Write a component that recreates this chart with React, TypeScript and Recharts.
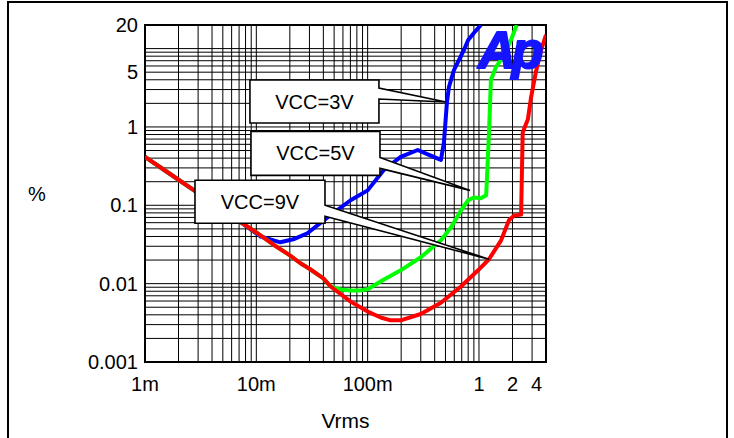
import React from 'react';
import { ComposedChart, Line, Scatter, XAxis, YAxis, CartesianGrid, ReferenceArea } from 'recharts';

// log grid, one line per 1..9 of every decade
const xTicks = [
  0.001, 0.002, 0.003, 0.004, 0.005, 0.006, 0.007, 0.008, 0.009,
  0.01, 0.02, 0.03, 0.04, 0.05, 0.06, 0.07, 0.08, 0.09,
  0.1, 0.2, 0.3, 0.4, 0.5, 0.6, 0.7, 0.8, 0.9,
  1, 2, 3, 4,
];
const yTicks = [
  0.001, 0.002, 0.003, 0.004, 0.005, 0.006, 0.007, 0.008, 0.009,
  0.01, 0.02, 0.03, 0.04, 0.05, 0.06, 0.07, 0.08, 0.09,
  0.1, 0.2, 0.3, 0.4, 0.5, 0.6, 0.7, 0.8, 0.9,
  1, 2, 3, 4, 5, 6, 7, 8, 9, 10, 20,
];
const xLabelValues = [0.001, 0.01, 0.1, 1, 2, 4];
const xLabelTexts = ['1m', '10m', '100m', '1', '2', '4'];
const yLabelValues = [0.001, 0.01, 0.1, 1, 5, 20];
const yLabelTexts = ['0.001', '0.01', '0.1', '1', '5', '20'];

// [Vrms, THD+N %]
const vcc3V = [
  [0.001, 0.414], [0.0015, 0.28], [0.002, 0.212], [0.003, 0.143], [0.005, 0.088], [0.007, 0.063],
  [0.0109, 0.04], [0.0164, 0.0337], [0.0215, 0.0368], [0.0288, 0.044], [0.0436, 0.07], [0.0703, 0.116],
  [0.1, 0.155], [0.139, 0.28], [0.198, 0.414], [0.282, 0.508], [0.355, 0.44], [0.455, 0.38],
  [0.484, 0.625], [0.515, 2.02], [0.537, 3.23], [0.596, 5.3], [0.733, 9.6], [0.8, 12.9], [0.9, 15.8], [1.04, 20],
];
const vcc5V = [
  [0.001, 0.414], [0.0015, 0.28], [0.002, 0.212], [0.003, 0.143], [0.005, 0.088], [0.007, 0.063],
  [0.01, 0.045], [0.015, 0.03], [0.02, 0.023], [0.0249, 0.0182], [0.03, 0.0155], [0.04, 0.0117],
  [0.0465, 0.0092], [0.057, 0.0084], [0.07, 0.0082], [0.0865, 0.0082], [0.1, 0.0085], [0.139, 0.0112],
  [0.198, 0.0148], [0.3, 0.0217], [0.455, 0.0357], [0.56, 0.052], [0.689, 0.086], [0.8, 0.116],
  [0.9, 0.126], [1.04, 0.123], [1.16, 0.134], [1.2, 0.38], [1.23, 0.84], [1.28, 3.97], [1.42, 5.8],
  [1.64, 7.8], [1.94, 12.9], [2.18, 20],
];
const vcc9V = [
  [0.001, 0.414], [0.0015, 0.28], [0.002, 0.212], [0.003, 0.143], [0.005, 0.088], [0.007, 0.063],
  [0.01, 0.045], [0.015, 0.03], [0.02, 0.023], [0.0249, 0.0182], [0.03, 0.0155], [0.04, 0.0117],
  [0.0465, 0.0092], [0.0703, 0.0059], [0.1, 0.0044], [0.131, 0.0037], [0.161, 0.0034], [0.198, 0.0034],
  [0.3, 0.0041], [0.455, 0.0057], [0.689, 0.0092], [0.98, 0.0148], [1.23, 0.0205], [1.58, 0.0357],
  [1.86, 0.0645], [2.07, 0.074], [2.39, 0.076], [2.47, 0.85], [2.75, 1.25], [2.94, 2.41], [3.27, 5.3],
  [3.62, 9.6], [4, 15],
];

// callout tips sit on the curves
const calloutLabels = ['VCC=3V', 'VCC=5V', 'VCC=9V'];
const calloutX = [0.505, 0.83, 1.23];
const calloutY = [2.08, 0.155, 0.0205];
const logoText = 'Ap';
const logoX = 1.86;
const logoY = 5.65;

// box geometry relative to the tip, in px: left, right, top, bottom, wedge top, wedge bottom
const calloutBoxes = [
  [-196, -67, -22, 21, -14, -3],
  [-219, -90, -59, -15, -33, -22],
  [-294, -164, -79, -36, -54, -43],
];

const toData = (pts: number[][]) => pts.map(([x, y]) => ({ x, y }));
const calloutData = calloutLabels.map((label, i) => ({ x: calloutX[i], y: calloutY[i], label, i }));
const logoData = [{ x: logoX, y: logoY }];

const FONT = '"Liberation Sans", Arial, sans-serif';

const Callout = (props: any) => {
  const { cx, cy, payload } = props;
  if (cx == null || cy == null) return null;
  const [l, r, t, b, wt, wb] = calloutBoxes[payload.i];
  const d = `M${cx + l},${cy + t} H${cx + r} V${cy + wt} L${cx},${cy} L${cx + r},${cy + wb} V${cy + b} H${cx + l} Z`;
  return (
    <g>
      <path d={d} fill="#fff" stroke="#000" strokeWidth={1.6} strokeLinejoin="miter" />
      <text
        x={cx + (l + r) / 2}
        y={cy + (t + b) / 2 + 7}
        textAnchor="middle"
        fontFamily={FONT}
        fontSize={20}
        fill="#000"
      >
        {payload.label}
      </text>
    </g>
  );
};

const Logo = (props: any) => {
  const { cx, cy } = props;
  if (cx == null || cy == null) return null;
  return (
    <text
      x={cx}
      y={cy}
      textAnchor="middle"
      fontFamily={FONT}
      fontSize={52}
      fontWeight="bold"
      fontStyle="italic"
      letterSpacing={-4}
      fill="#1414ff"
      stroke="#1414ff"
      strokeWidth={2}
      strokeLinejoin="round"
    >
      {logoText}
    </text>
  );
};

const fmtX = (v: number) => {
  const i = xLabelValues.findIndex((t) => Math.abs(t - v) / t < 1e-6);
  return i >= 0 ? xLabelTexts[i] : '';
};
const fmtY = (v: number) => {
  const i = yLabelValues.findIndex((t) => Math.abs(t - v) / t < 1e-6);
  return i >= 0 ? yLabelTexts[i] : '';
};

const XTick = (props: any) => {
  const { x, y, payload } = props;
  const text = fmtX(payload.value);
  if (!text) return null;
  const last = payload.value === 4;
  return (
    <text
      x={last ? x - 4 : x}
      y={y}
      dy={15}
      textAnchor={last ? 'end' : 'middle'}
      fontFamily={FONT}
      fontSize={20}
      fill="#000"
    >
      {text}
    </text>
  );
};

export default function App() {
  return (
    <div style={{ position: 'absolute', left: 0, top: 0, width: 734, height: 438, overflow: 'hidden', background: '#fff' }}>
      <div
        style={{
          position: 'absolute',
          left: 7,
          top: 1,
          width: 721,
          height: 480,
          border: '2px solid #000',
          boxSizing: 'border-box',
        }}
      />
      <div style={{ position: 'absolute', left: 0, top: 0 }}>
        <ComposedChart width={734} height={438} margin={{ top: 25, right: 188, bottom: 0, left: 0 }} style={{ fontFamily: FONT }}>
          <CartesianGrid stroke="#000" strokeWidth={1} horizontal vertical />
          <XAxis
            dataKey="x"
            type="number"
            scale="log"
            domain={[0.001, 4]}
            allowDataOverflow
            ticks={xTicks}
            interval={0}
            tick={<XTick />}
            tickLine={false}
            axisLine={false}
            height={76}
            tickSize={6}
            tickMargin={8}
            label={{ value: 'Vrms', position: 'insideBottom', offset: 10, fill: '#000', fontSize: 21, fontFamily: FONT }}
          />
          <YAxis
            dataKey="y"
            type="number"
            scale="log"
            domain={[0.001, 20]}
            allowDataOverflow
            ticks={yTicks}
            interval={0}
            tickFormatter={fmtY}
            tick={{ fill: '#000', fontSize: 20, fontFamily: FONT }}
            tickLine={false}
            axisLine={false}
            width={145}
            tickSize={6}
            tickMargin={1}
            label={{ value: '%', position: 'insideLeft', offset: 28, fill: '#000', fontSize: 20, fontFamily: FONT }}
          />
          <ReferenceArea x1={0.001} x2={4} y1={0.001} y2={20} fill="none" stroke="#000" strokeWidth={2} ifOverflow="visible" />
          <Line data={toData(vcc3V)} dataKey="y" type="linear" stroke="#0000ff" strokeWidth={4} dot={false} isAnimationActive={false} strokeLinejoin="round" />
          <Line data={toData(vcc5V)} dataKey="y" type="linear" stroke="#00ff00" strokeWidth={4} dot={false} isAnimationActive={false} strokeLinejoin="round" />
          <Line data={toData(vcc9V)} dataKey="y" type="linear" stroke="#ff0000" strokeWidth={4} dot={false} isAnimationActive={false} strokeLinejoin="round" />
          <Scatter data={logoData} dataKey="y" shape={<Logo />} isAnimationActive={false} />
          <Scatter data={calloutData} dataKey="y" shape={<Callout />} isAnimationActive={false} />
        </ComposedChart>
      </div>
    </div>
  );
}
